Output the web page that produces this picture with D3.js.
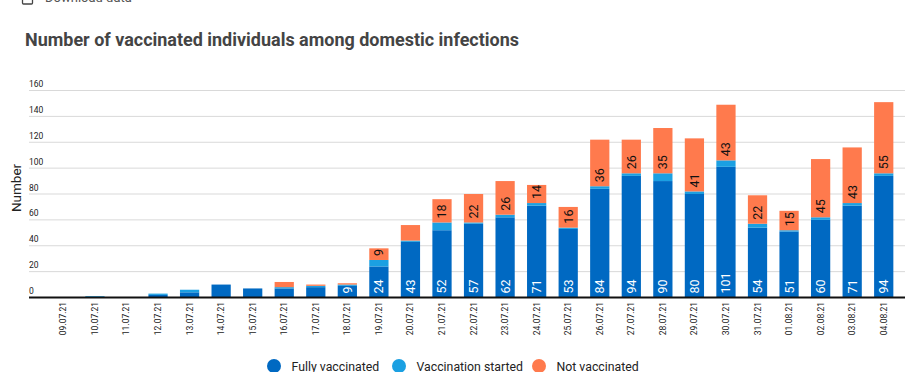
<!DOCTYPE html>
<html>
<head>
<meta charset="utf-8">
<script src="https://cdn.jsdelivr.net/npm/d3@7"></script>
<style>
  body { margin: 0; background: #fff; overflow: hidden; }
  svg { display: block; font-family: Roboto, sans-serif; }
</style>
</head>
<body>
<svg id="chart" width="917" height="372"></svg>
<script>
const dates = ['09.07.21','10.07.21','11.07.21','12.07.21','13.07.21','14.07.21','15.07.21','16.07.21','17.07.21',
  '18.07.21','19.07.21','20.07.21','21.07.21','22.07.21','23.07.21','24.07.21','25.07.21','26.07.21','27.07.21',
  '28.07.21','29.07.21','30.07.21','31.07.21','01.08.21','02.08.21','03.08.21','04.08.21']
const fullyVaccinated = [0,0,0,2,4,10,7,7,8,9,24,43,52,57,62,71,53,84,94,90,80,101,54,51,60,71,94]
const vaccinationStarted = [0,1,0,1,2,0,0,1,1,1,5,1,6,1,2,2,1,2,2,6,2,5,3,1,2,2,2]
const notVaccinated = [0,0,0,0,0,0,0,4,1,1,9,12,18,22,26,14,16,36,26,35,41,43,22,15,45,43,55]
const yTicks = [0,20,40,60,80,100,120,140,160]
const seriesNames = ['Fully vaccinated','Vaccination started','Not vaccinated']
const colors = ['#0069c2','#1ba0e2','#ff7a4d']

const svg = d3.select('#chart')

// download link (cut off at the top)
svg.append('rect').attr('x', 22.5).attr('y', -6).attr('width', 10).attr('height', 10)
  .attr('fill', 'none').attr('stroke', '#444').attr('stroke-width', 1.3).attr('rx', 1)
svg.append('text').attr('x', 45).attr('y', 2).attr('font-size', 13).attr('fill', '#555').text('Download data')

svg.append('text').attr('x', 25).attr('y', 46)
  .attr('font-size', 19).attr('font-weight', 'bold').attr('fill', '#444')
  .attr('textLength', 494).attr('lengthAdjust', 'spacingAndGlyphs')
  .text('Number of vaccinated individuals among domestic infections')

const x = d3.scaleBand().domain(dates).range([47.6, 899.5]).paddingInner(0.39).paddingOuter(0.195)
const y = d3.scaleLinear().domain([0, 160]).range([297.5, 90.5])

// grid
svg.append('g').selectAll('line').data(yTicks.filter(d => d > 0)).join('line')
  .attr('x1', 29).attr('x2', 905).attr('y1', d => y(d)).attr('y2', d => y(d))
  .attr('stroke', '#d9d9d9').attr('stroke-width', 1)
svg.append('g').selectAll('text').data(yTicks).join('text')
  .attr('x', 29).attr('y', d => y(d) - 3.5).attr('font-size', 8.5).attr('fill', '#222')
  .text(d => d)

svg.append('text').attr('transform', 'translate(20.5,188) rotate(-90)')
  .attr('text-anchor', 'middle').attr('font-size', 13.5).attr('fill', '#222').text('Number')

// stacked bars
const table = dates.map((d, i) => ({date: d, fully: fullyVaccinated[i], started: vaccinationStarted[i], not: notVaccinated[i]}))
const stack = d3.stack().keys(['fully','started','not'])(table)

const layers = svg.append('g').selectAll('g').data(stack).join('g').attr('fill', (d, i) => colors[i])
layers.selectAll('rect').data(d => d).join('rect')
  .attr('x', d => x(d.data.date))
  .attr('width', x.bandwidth())
  .attr('y', d => y(d[1]))
  .attr('height', d => y(d[0]) - y(d[1]))

// value labels for fully vaccinated (white) and not vaccinated (black)
const labelLayers = [0, 2]
labelLayers.forEach(k => {
  svg.append('g').selectAll('text').data(stack[k].filter(d => {
    const v = d[1] - d[0]
    const h = y(d[0]) - y(d[1])
    return v >= 9 && String(v).length * 7 + 3 <= h
  })).join('text')
    .attr('transform', d => `translate(${x(d.data.date) + x.bandwidth() / 2 + 4.5},${y(d[0]) - 4}) rotate(-90)`)
    .attr('font-size', 12.5)
    .attr('fill', k === 0 ? '#fff' : '#111')
    .text(d => d[1] - d[0])
})

// baseline
svg.append('line').attr('x1', 29).attr('x2', 905).attr('y1', y(0)).attr('y2', y(0))
  .attr('stroke', '#111').attr('stroke-width', 2)

// x labels
svg.append('g').selectAll('text').data(dates).join('text')
  .attr('transform', d => `translate(${x(d) + x.bandwidth() / 2 + 3},302) rotate(-90)`)
  .attr('text-anchor', 'end').attr('font-size', 8.5).attr('fill', '#222')
  .text(d => d)

// legend
const legendX = [274, 399, 539]
const legend = svg.append('g').selectAll('g').data(seriesNames).join('g')
  .attr('transform', (d, i) => `translate(${legendX[i]},366)`)
legend.append('circle').attr('r', 7).attr('fill', (d, i) => colors[i])
legend.append('text').attr('x', 17.5).attr('y', 5).attr('font-size', 12.3).attr('fill', '#222').text(d => d)
</script>
</body>
</html>
